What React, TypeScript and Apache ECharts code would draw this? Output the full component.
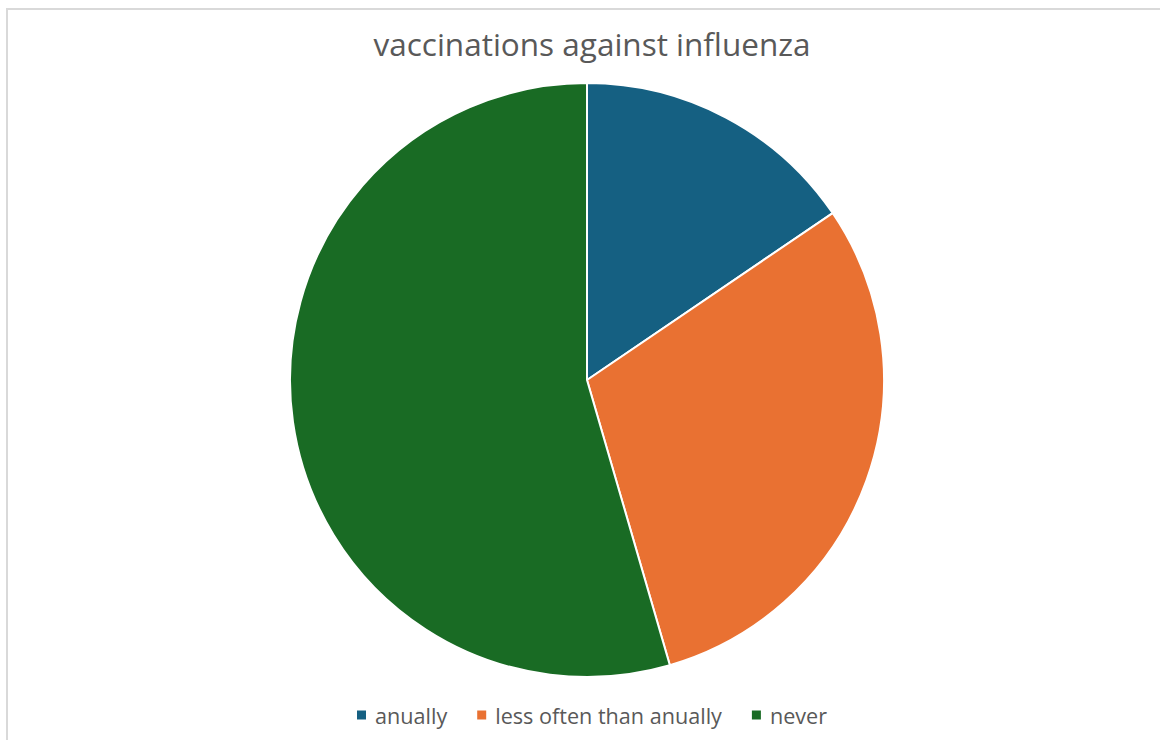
import React, { useEffect, useRef } from "react";
import * as echarts from "echarts";

const categories = ["anually", "less often than anually", "never"];
const values = [15.5, 30.0, 54.5];
const colors = ["#156082", "#E97132", "#196B24"];
const titleText = "vaccinations against influenza";

export default function App() {
  const ref = useRef<HTMLDivElement>(null);
  useEffect(() => {
    if (!ref.current) return;
    const chart = echarts.init(ref.current, null, { renderer: "svg" });
    chart.setOption({
      animation: false,
      title: {
        text: titleText,
        left: 587,
        textAlign: "center",
        top: 22,
        textStyle: { fontFamily: "Open Sans", fontSize: 31.5, fontWeight: "normal", color: "#595959" },
      },
      legend: {
        bottom: 9,
        left: 350,
        icon: "rect",
        itemWidth: 11,
        itemHeight: 11,
        itemGap: 28,
        textStyle: { fontFamily: "Open Sans", fontSize: 21.6, color: "#595959", padding: [0, 0, 0, 3] },
        data: categories,
      },
      series: [
        {
          type: "pie",
          center: [587, 380],
          radius: 297,
          startAngle: 90,
          clockwise: true,
          label: { show: false },
          labelLine: { show: false },
          itemStyle: { borderColor: "#ffffff", borderWidth: 2 },
          emphasis: { disabled: true },
          data: categories.map((c, i) => ({ name: c, value: values[i], itemStyle: { color: colors[i] } })),
        },
      ],
    });
    return () => chart.dispose();
  }, []);
  return (
    <div style={{ position: "fixed", left: 0, top: 0, width: 1160, height: 740, background: "#fff" }}>
      <div
        style={{
          position: "absolute",
          left: 6,
          top: 8,
          width: 1200,
          height: 800,
          borderLeft: "2px solid #d9d9d9",
          borderTop: "2px solid #d9d9d9",
        }}
      />
      <div ref={ref} style={{ position: "absolute", left: 0, top: 0, width: 1160, height: 740 }} />
    </div>
  );
}
